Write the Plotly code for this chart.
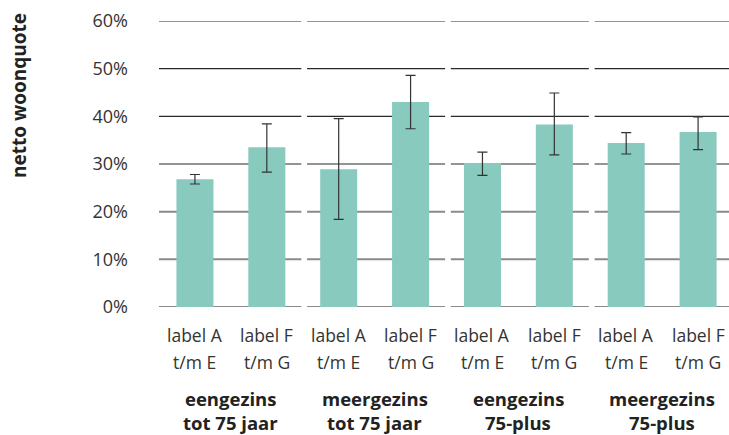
import plotly.graph_objects as go

# ---- data ----
bar_labels_top = ["label A", "label F", "label A", "label F", "label A", "label F", "label A", "label F"]
bar_labels_bottom = ["t/m E", "t/m G", "t/m E", "t/m G", "t/m E", "t/m G", "t/m E", "t/m G"]
group_line1 = ["eengezins", "meergezins", "eengezins", "meergezins"]
group_line2 = ["tot 75 jaar", "tot 75 jaar", "75-plus", "75-plus"]
values = [0.268, 0.335, 0.289, 0.430, 0.302, 0.383, 0.344, 0.367]
err_high = [0.278, 0.384, 0.395, 0.486, 0.325, 0.449, 0.366, 0.399]
err_low = [0.258, 0.283, 0.184, 0.374, 0.276, 0.319, 0.321, 0.330]
y_ticks = [0, 0.1, 0.2, 0.3, 0.4, 0.5, 0.6]
y_tick_text = ["0%", "10%", "20%", "30%", "40%", "50%", "60%"]
y_title = "netto woonquote"

xs = list(range(len(values)))
W, H = 729, 435
ML, MR, MT, MB = 159, 0, 21, 128
PH = H - MT - MB
XMAX = 7.43

def py(pixel_y):
    return (H - MB - pixel_y) / PH

fig = go.Figure()
fig.add_trace(go.Bar(
    x=xs, y=values, width=0.515,
    marker=dict(color="#88CABE", line=dict(width=0)),
    error_y=dict(type="data", symmetric=False,
                 array=[h - v for h, v in zip(err_high, values)],
                 arrayminus=[v - l for v, l in zip(values, err_low)],
                 color="#333333", thickness=1.2, width=5),
    hoverinfo="skip",
))

shapes = []
for g in range(4):
    x0 = 2 * g - 0.5 + (0.0 if g == 0 else 0.06)
    x1 = 2 * g + 1.48 if g < 3 else XMAX
    for t in y_ticks:
        dark = t >= 0.3
        shapes.append(dict(type="line", xref="x", yref="y", x0=x0, x1=x1, y0=t, y1=t,
                           layer="below",
                           line=dict(color="#2a2a2a" if dark else "#8a8a8a",
                                     width=1.2 if dark else 2)))

annotations = []
for i, x in enumerate(xs):
    annotations.append(dict(x=x, y=py(335), xref="x", yref="paper", text=bar_labels_top[i],
                            showarrow=False, font=dict(size=17.5, color="#333333"),
                            yanchor="middle", borderpad=0))
    annotations.append(dict(x=x, y=py(361.5), xref="x", yref="paper", text=bar_labels_bottom[i],
                            showarrow=False, font=dict(size=17.5, color="#333333"),
                            yanchor="middle", borderpad=0))
for g in range(4):
    cx = 2 * g + 0.5
    annotations.append(dict(x=cx, y=py(398), xref="x", yref="paper", text="<b>%s</b>" % group_line1[g],
                            showarrow=False, font=dict(size=18.5, color="#222222"),
                            yanchor="middle", borderpad=0))
    annotations.append(dict(x=cx, y=py(422.5), xref="x", yref="paper", text="<b>%s</b>" % group_line2[g],
                            showarrow=False, font=dict(size=18.5, color="#222222"),
                            yanchor="middle", borderpad=0))
annotations.append(dict(x=(19 - ML) / (W - ML - MR), y=py(96), xref="paper", yref="paper",
                        text="<b>%s</b>" % y_title, textangle=-90, showarrow=False,
                        font=dict(size=19, color="#222222"), xanchor="center", yanchor="middle",
                        borderpad=0))

fig.update_layout(
    width=W, height=H,
    margin=dict(l=ML, r=MR, t=MT, b=MB, pad=0),
    paper_bgcolor="white", plot_bgcolor="white",
    font=dict(family="Open Sans, sans-serif", color="#333333"),
    showlegend=False,
    bargap=0.485,
    shapes=shapes,
    annotations=annotations,
    xaxis=dict(range=[-0.5, XMAX], showticklabels=False, showgrid=False, zeroline=False,
               showline=False, ticks="", fixedrange=True),
    yaxis=dict(range=[0, 0.6], tickvals=y_ticks, ticktext=y_tick_text, showgrid=False,
               zeroline=False, showline=False, ticks="", ticklabelstandoff=30,
               tickfont=dict(size=18, color="#333333"), fixedrange=True),
)

fig.write_html("out.html",
               config={"displayModeBar": False},
               post_script="document.body.style.margin='0';document.body.style.overflow='hidden';")
